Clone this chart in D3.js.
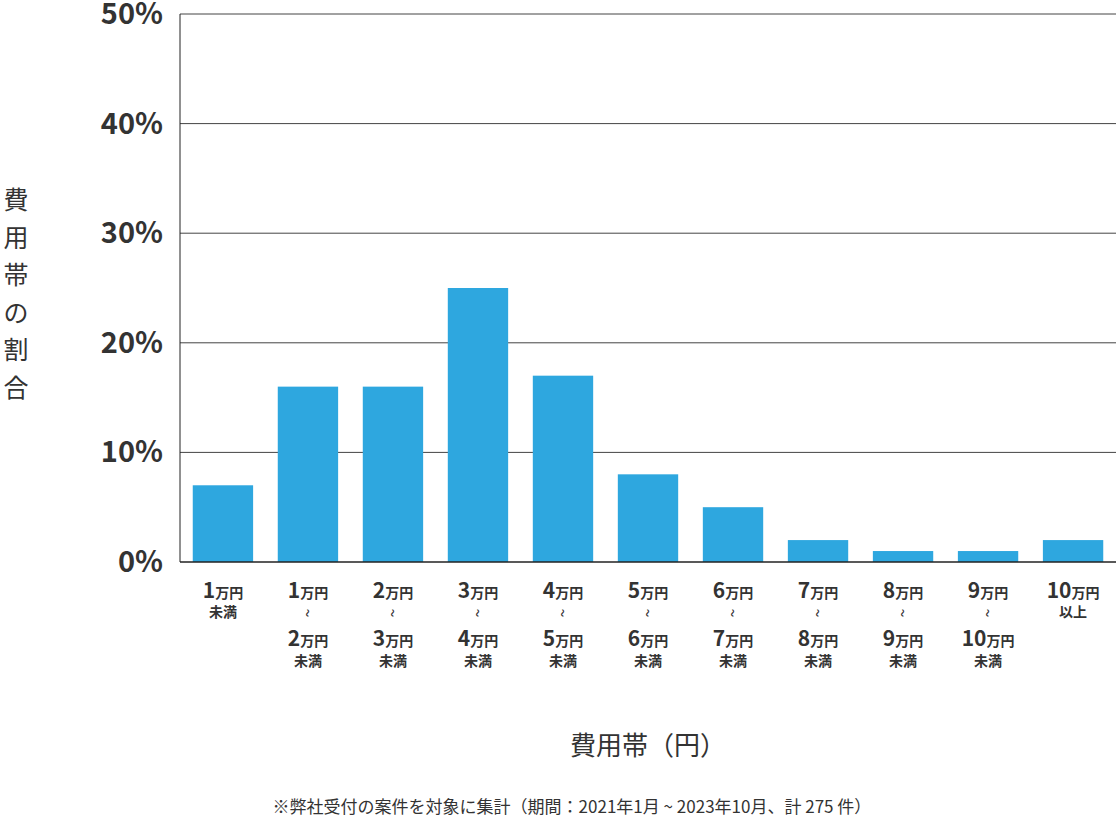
<!DOCTYPE html>
<html><head><meta charset="utf-8">
<script src="https://cdn.jsdelivr.net/npm/d3@7"></script>
<style>body{margin:0;background:#fff;font-family:"Noto Sans CJK JP","Noto Sans",sans-serif}</style>
</head><body><svg id="c" width="1116" height="828"></svg>
<script>
// data
const lower = ["1", "1", "2", "3", "4", "5", "6", "7", "8", "9", "10"];
const upper = [null, "2", "3", "4", "5", "6", "7", "8", "9", "10", null];
const shares = [7, 16, 16, 25, 17, 8, 5, 2, 1, 1, 2];
const yTicks = [0, 10, 20, 30, 40, 50];

const svg = d3.select("#c");
const pLeft = 180, pRight = 1116, pTop = 14, pBottom = 562;

var x = d3.scaleBand().domain(d3.range(shares.length)).range([pLeft, pRight]).paddingInner(0.29).paddingOuter(0.15);
var y = d3.scaleLinear().domain([0, 50]).range([pBottom, pTop]);

// grid
svg.append("g").selectAll("line").data(yTicks.slice(1)).enter().append("line")
    .attr("x1", pLeft).attr("x2", pRight).attr("y1", d => y(d)).attr("y2", d => y(d))
    .attr("stroke", "#444").attr("stroke-width", 1);

svg.append("g").selectAll("text").data(yTicks).enter().append("text")
    .attr("x", 163).attr("y", d => y(d) + 10).attr("text-anchor", "end")
    .attr("font-size", 29).attr("font-weight", 700).attr("fill", "#333")
    .text(d => d + "%");

// bars
svg.append("g").selectAll("rect").data(shares).enter().append("rect")
    .attr("x", (d, i) => x(i)).attr("width", x.bandwidth())
    .attr("y", d => y(d)).attr("height", d => pBottom - y(d))
    .attr("fill", "#2ea7df");

svg.append("line").attr("x1", pLeft).attr("x2", pLeft).attr("y1", pTop).attr("y2", pBottom).attr("stroke", "#222");
svg.append("line").attr("x1", pLeft).attr("x2", pRight).attr("y1", pBottom).attr("y2", pBottom).attr("stroke", "#222").attr("stroke-width", 1.5);

// x labels
function amount(g, num, yy) {
    var t = g.append("text").attr("y", yy).attr("text-anchor", "middle").attr("fill", "#333").attr("font-weight", 700);
    t.append("tspan").attr("font-size", 21).text(num);
    t.append("tspan").attr("font-size", 14).text("万円");
}
function small(g, s, yy) {
    g.append("text").attr("y", yy).attr("text-anchor", "middle").attr("fill", "#333")
        .attr("font-weight", 700).attr("font-size", 14).text(s);
}
lower.forEach((lo, i) => {
    var g = svg.append("g").attr("transform", `translate(${x(i) + x.bandwidth() / 2},0)`);
    amount(g, lo, 598);
    if (upper[i] == null) {
        small(g, i == 0 ? "未満" : "以上", 617);
    } else {
        g.append("text").attr("transform", "translate(0,613) rotate(90)").attr("text-anchor", "middle")
            .attr("dy", "0.35em").attr("font-size", 16).attr("fill", "#333").text("~");
        amount(g, upper[i], 646);
        small(g, "未満", 666);
    }
});

// titles
var yt = svg.append("text").attr("font-size", 25).attr("fill", "#333").attr("text-anchor", "middle");
Array.from("費用帯の割合").forEach((c, i) => {
    yt.append("tspan").attr("x", 16).attr("y", 209 + i * 37.5).text(c);
});
svg.append("text").attr("x", 648).attr("y", 755).attr("text-anchor", "middle")
    .attr("font-size", 26).attr("fill", "#333").text("費用帯（円）");
svg.append("text").attr("x", 572).attr("y", 813).attr("text-anchor", "middle")
    .attr("font-size", 17).attr("fill", "#333").text("※弊社受付の案件を対象に集計（期間：2021年1月 ~ 2023年10月、計 275 件）");
</script></body></html>
